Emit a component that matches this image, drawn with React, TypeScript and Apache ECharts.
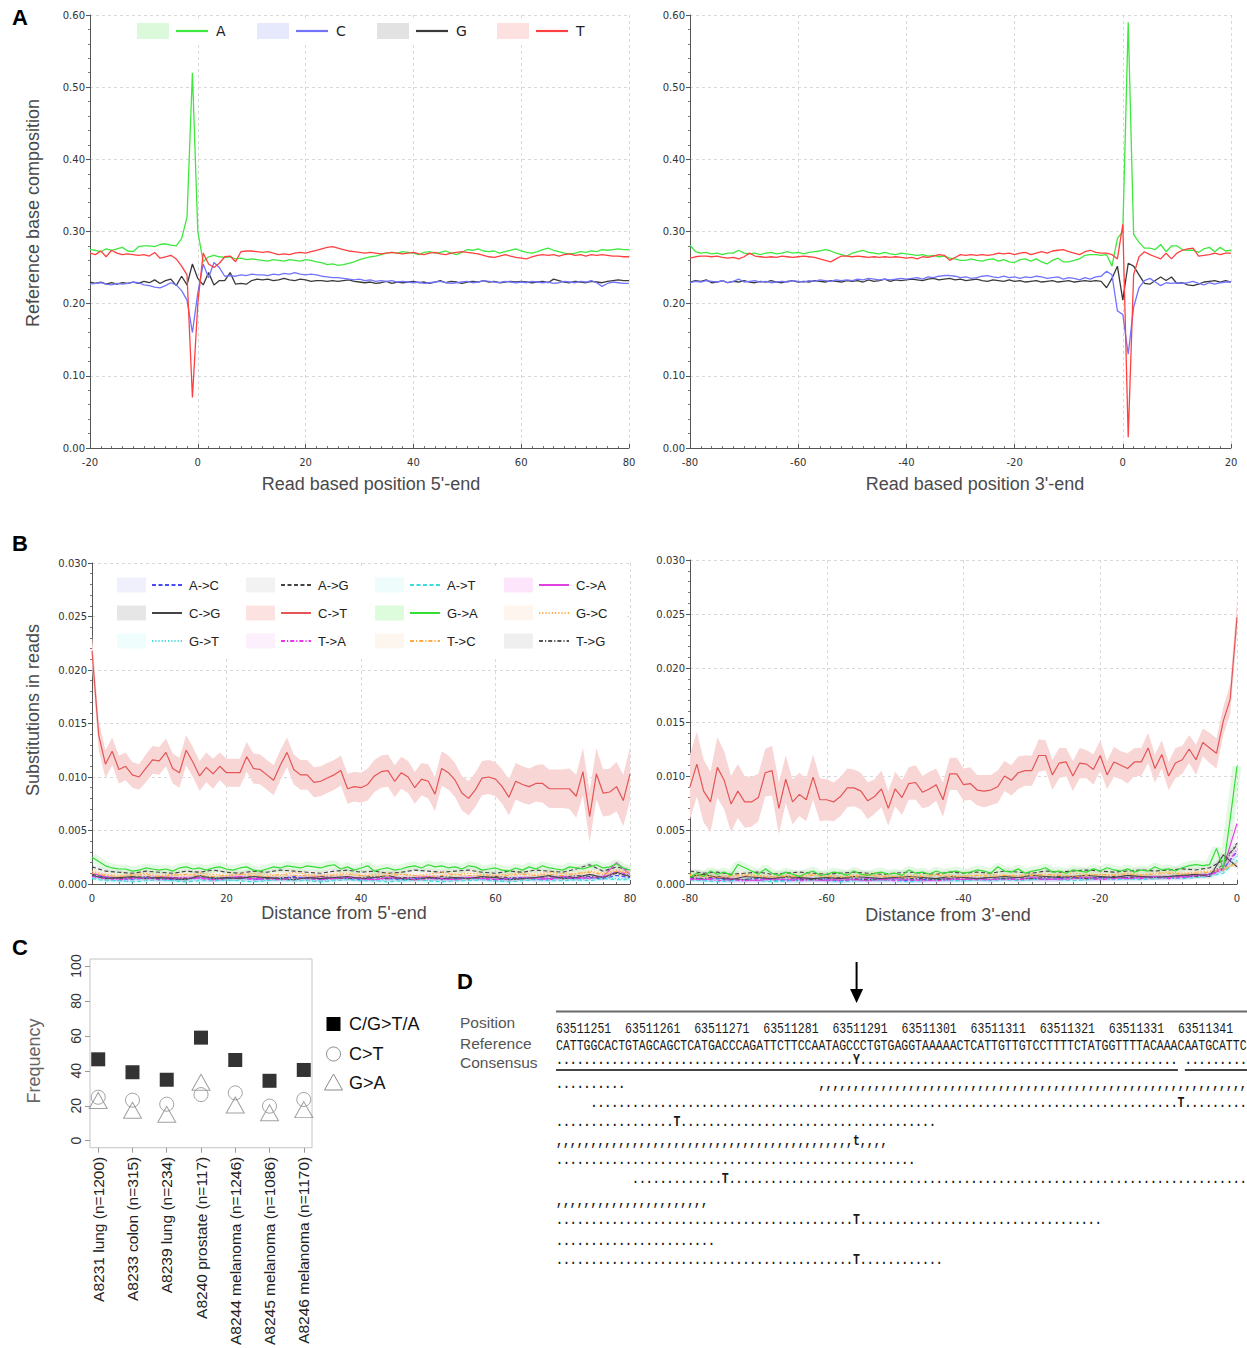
import React, { useEffect, useRef } from "react";
import * as echarts from "echarts";

// ---------------- Panel A: reference base composition ----------------
const A5_START = -20; // positions -20..80
const A3_START = -80; // positions -80..20
const nucNames = ["A", "C", "G", "T"];
const nucColors = ["#3ee83e", "#7373ff", "#3a3a3a", "#ff4040"];
const nucBoxColors = ["#dcf9dc", "#e6e8fb", "#e2e2e2", "#fde1e1"];

const a5A = [
  0.275, 0.274, 0.272, 0.276, 0.274, 0.276, 0.278, 0.273, 0.272, 0.279,
  0.280, 0.280, 0.279, 0.282, 0.283, 0.281, 0.280, 0.290, 0.320, 0.520,
  0.300, 0.258, 0.265, 0.267, 0.265, 0.264, 0.265, 0.262, 0.263, 0.261,
  0.262, 0.261, 0.260, 0.259, 0.261, 0.260, 0.259, 0.261, 0.260, 0.259,
  0.261, 0.260, 0.258, 0.257, 0.254, 0.255, 0.253, 0.254, 0.256, 0.258,
  0.261, 0.263, 0.265, 0.266, 0.268, 0.270, 0.271, 0.270, 0.272, 0.271,
  0.270, 0.268, 0.271, 0.272, 0.270, 0.271, 0.273, 0.270, 0.268, 0.271,
  0.275, 0.274, 0.276, 0.273, 0.272, 0.273, 0.270, 0.272, 0.274, 0.276,
  0.273, 0.271, 0.270, 0.272, 0.275, 0.277, 0.274, 0.272, 0.270, 0.269,
  0.270, 0.272, 0.271, 0.273, 0.272, 0.275, 0.274, 0.275, 0.276, 0.275,
  0.275,
];
const a5C = [
  0.227, 0.228, 0.229, 0.227, 0.226, 0.228, 0.227, 0.228, 0.230, 0.229,
  0.226, 0.225, 0.223, 0.222, 0.225, 0.229, 0.226, 0.218, 0.205, 0.160,
  0.215, 0.255, 0.236, 0.257, 0.250, 0.238, 0.239, 0.238, 0.240, 0.239,
  0.241, 0.240, 0.240, 0.239, 0.241, 0.240, 0.242, 0.241, 0.243, 0.241,
  0.240, 0.241, 0.240, 0.238, 0.237, 0.236, 0.236, 0.235, 0.234, 0.233,
  0.234, 0.232, 0.233, 0.231, 0.232, 0.231, 0.232, 0.230, 0.231, 0.230,
  0.229, 0.230, 0.228, 0.229, 0.230, 0.231, 0.229, 0.228, 0.229, 0.230,
  0.231, 0.229, 0.230, 0.232, 0.231, 0.230, 0.229, 0.231, 0.230, 0.229,
  0.230, 0.229, 0.231, 0.230, 0.229, 0.230, 0.228, 0.229, 0.231, 0.230,
  0.229, 0.231, 0.230, 0.232, 0.229, 0.224, 0.228, 0.230, 0.229, 0.228,
  0.228,
];
const a5G = [
  0.230, 0.228, 0.230, 0.227, 0.229, 0.227, 0.229, 0.228, 0.230, 0.228,
  0.231, 0.229, 0.233, 0.228, 0.232, 0.234, 0.225, 0.238, 0.226, 0.255,
  0.235, 0.226, 0.243, 0.226, 0.232, 0.232, 0.243, 0.227, 0.228, 0.227,
  0.232, 0.234, 0.233, 0.234, 0.232, 0.233, 0.235, 0.233, 0.232, 0.234,
  0.233, 0.231, 0.232, 0.232, 0.231, 0.232, 0.231, 0.232, 0.233, 0.231,
  0.230, 0.229, 0.230, 0.228, 0.229, 0.231, 0.228, 0.230, 0.229, 0.230,
  0.231, 0.229, 0.230, 0.228, 0.230, 0.232, 0.229, 0.231, 0.230, 0.228,
  0.230, 0.231, 0.230, 0.232, 0.230, 0.231, 0.229, 0.230, 0.231, 0.230,
  0.231, 0.230, 0.229, 0.230, 0.231, 0.229, 0.234, 0.232, 0.230, 0.229,
  0.231, 0.230, 0.229, 0.231, 0.230, 0.229, 0.231, 0.232, 0.233, 0.232,
  0.232,
];
const a5T = [
  0.270, 0.268, 0.273, 0.265, 0.274, 0.270, 0.268, 0.269, 0.268, 0.267,
  0.268, 0.266, 0.271, 0.263, 0.265, 0.267, 0.262, 0.252, 0.240, 0.070,
  0.200, 0.270, 0.255, 0.250, 0.256, 0.265, 0.266, 0.258, 0.272, 0.273,
  0.273, 0.272, 0.271, 0.272, 0.270, 0.268, 0.269, 0.268, 0.270, 0.271,
  0.270, 0.272, 0.274, 0.276, 0.278, 0.279, 0.277, 0.275, 0.273, 0.272,
  0.271, 0.270, 0.271, 0.270, 0.269, 0.270, 0.271, 0.270, 0.269, 0.270,
  0.271, 0.269, 0.268, 0.270, 0.271, 0.269, 0.268, 0.270, 0.271, 0.272,
  0.271, 0.270, 0.269, 0.267, 0.265, 0.264, 0.266, 0.268, 0.266, 0.264,
  0.263, 0.262, 0.265, 0.267, 0.268, 0.267, 0.268, 0.266, 0.268, 0.269,
  0.267, 0.268, 0.266, 0.268, 0.267, 0.268, 0.267, 0.266, 0.266, 0.265,
  0.265,
];

const a3A = [
  0.281, 0.272, 0.270, 0.271, 0.269, 0.270, 0.268, 0.270, 0.270, 0.274,
  0.270, 0.269, 0.270, 0.268, 0.270, 0.271, 0.269, 0.270, 0.272, 0.270,
  0.271, 0.269, 0.271, 0.272, 0.273, 0.275, 0.273, 0.270, 0.268, 0.266,
  0.270, 0.272, 0.274, 0.271, 0.270, 0.269, 0.271, 0.269, 0.268, 0.270,
  0.269, 0.268, 0.267, 0.268, 0.266, 0.267, 0.265, 0.266, 0.263, 0.262,
  0.260, 0.260, 0.262, 0.260, 0.259, 0.261, 0.262, 0.259, 0.261, 0.258,
  0.257, 0.261, 0.262, 0.259, 0.262, 0.258, 0.255, 0.260, 0.263, 0.258,
  0.258, 0.260, 0.262, 0.267, 0.268, 0.268, 0.267, 0.268, 0.252, 0.290,
  0.300, 0.590, 0.296, 0.285, 0.277, 0.277, 0.275, 0.282, 0.272, 0.280,
  0.280, 0.275, 0.274, 0.274, 0.271, 0.276, 0.278, 0.272, 0.278, 0.273,
  0.274,
];
const a3C = [
  0.229, 0.231, 0.230, 0.232, 0.231, 0.230, 0.232, 0.229, 0.231, 0.234,
  0.230, 0.231, 0.232, 0.230, 0.231, 0.229, 0.230, 0.231, 0.230, 0.232,
  0.231, 0.230, 0.232, 0.231, 0.233, 0.232, 0.231, 0.233, 0.232, 0.233,
  0.232, 0.234, 0.233, 0.235, 0.234, 0.233, 0.234, 0.233, 0.234, 0.235,
  0.234, 0.235, 0.236, 0.234, 0.237, 0.236, 0.238, 0.239, 0.239, 0.238,
  0.236, 0.237, 0.235, 0.236, 0.238, 0.239, 0.237, 0.236, 0.238, 0.236,
  0.237, 0.235, 0.237, 0.236, 0.238, 0.237, 0.235, 0.236, 0.237, 0.234,
  0.236, 0.235, 0.233, 0.236, 0.234, 0.237, 0.238, 0.245, 0.240, 0.190,
  0.185, 0.130, 0.195, 0.222, 0.232, 0.235, 0.230, 0.225, 0.229, 0.228,
  0.229, 0.228, 0.229, 0.231, 0.228, 0.226, 0.229, 0.227, 0.229, 0.230,
  0.230,
];
const a3G = [
  0.230, 0.232, 0.231, 0.233, 0.229, 0.230, 0.232, 0.229, 0.231, 0.230,
  0.232, 0.230, 0.229, 0.231, 0.230, 0.232, 0.230, 0.229, 0.231, 0.232,
  0.230, 0.231, 0.230, 0.232, 0.231, 0.230, 0.232, 0.231, 0.230, 0.232,
  0.231, 0.232, 0.230, 0.233, 0.231, 0.232, 0.234, 0.231, 0.233, 0.232,
  0.233, 0.234, 0.233, 0.232, 0.234, 0.235, 0.233, 0.234, 0.235, 0.233,
  0.234, 0.232, 0.233, 0.234, 0.232, 0.231, 0.233, 0.232, 0.231, 0.233,
  0.231, 0.232, 0.230, 0.231, 0.232, 0.230, 0.231, 0.232, 0.230, 0.231,
  0.232, 0.230, 0.231, 0.232, 0.231, 0.232, 0.231, 0.222, 0.235, 0.252,
  0.205, 0.256, 0.252, 0.240, 0.228, 0.227, 0.232, 0.237, 0.232, 0.237,
  0.228, 0.229, 0.226, 0.225, 0.227, 0.230, 0.231, 0.232, 0.230, 0.232,
  0.230,
];
const a3T = [
  0.263, 0.265, 0.266, 0.266, 0.265, 0.266, 0.264, 0.263, 0.264, 0.262,
  0.265, 0.270, 0.266, 0.265, 0.264, 0.265, 0.264, 0.266, 0.265, 0.264,
  0.265, 0.266, 0.265, 0.264, 0.262, 0.260, 0.258, 0.262, 0.266, 0.266,
  0.265, 0.266, 0.265, 0.264, 0.265, 0.264, 0.265, 0.264, 0.265, 0.264,
  0.263, 0.264, 0.262, 0.265, 0.264, 0.266, 0.268, 0.267, 0.260, 0.264,
  0.268, 0.267, 0.268, 0.267, 0.268, 0.267, 0.268, 0.270, 0.269, 0.270,
  0.268, 0.270, 0.271, 0.268, 0.270, 0.272, 0.270, 0.273, 0.274, 0.275,
  0.272, 0.270, 0.268, 0.272, 0.274, 0.271, 0.270, 0.270, 0.268, 0.262,
  0.310, 0.015, 0.240, 0.265, 0.272, 0.268, 0.265, 0.262, 0.270, 0.262,
  0.270, 0.274, 0.276, 0.277, 0.266, 0.267, 0.268, 0.270, 0.268, 0.270,
  0.270,
];

// ---------------- Panel B: substitutions in reads ----------------
const B5_START = 0; // 0..80
const B3_START = -80; // -80..0
const subNames = ["A->C", "A->G", "A->T", "C->A", "C->G", "C->T", "G->A", "G->C", "G->T", "T->A", "T->C", "T->G"];
const subColors = ["#4a4aff", "#444444", "#3fdcdc", "#e040e0", "#444444", "#e45555", "#33dd33", "#ffaa44", "#3fdcdc", "#ee33ee", "#ffaa44", "#555555"];
const subBoxColors = ["#eff0fc", "#f2f2f2", "#effcfc", "#fde6fc", "#e6e6e6", "#fde2e2", "#dcfcdc", "#fdf5ee", "#effdfd", "#fdf0fd", "#fdf6ee", "#efefef"];
const subDash = ["dash", "dash", "dash", "solid", "solid", "solid", "solid", "dot", "dot", "dashdot", "dashdot", "dashdot"];

const ct5 = [
  0.0218, 0.0139, 0.0112, 0.0124, 0.0107, 0.0110, 0.0102, 0.0100, 0.0108, 0.0116,
  0.0115, 0.0123, 0.0108, 0.0104, 0.0125, 0.0114, 0.0101, 0.0109, 0.0103, 0.0110,
  0.0104, 0.0104, 0.0104, 0.0119, 0.0108, 0.0107, 0.0102, 0.0097, 0.0111, 0.0123,
  0.0107, 0.0102, 0.0102, 0.0095, 0.0096, 0.0099, 0.0102, 0.0106, 0.0089, 0.0091,
  0.0090, 0.0093, 0.0101, 0.0105, 0.0106, 0.0096, 0.0104, 0.0100, 0.0090, 0.0098,
  0.0096, 0.0084, 0.0108, 0.0104, 0.0097, 0.0085, 0.0080, 0.0088, 0.0099, 0.0100,
  0.0098, 0.0091, 0.0081, 0.0096, 0.0093, 0.0091, 0.0094, 0.0094, 0.0089, 0.0089,
  0.0089, 0.0089, 0.0082, 0.0105, 0.0063, 0.0103, 0.0085, 0.0086, 0.0091, 0.0078,
  0.0103,
];
const ct5Err = [
  0.0015, 0.0014, 0.0013, 0.0013, 0.0013, 0.0013, 0.0012, 0.0012, 0.0013, 0.0013,
  0.0013, 0.0013, 0.0014, 0.0014, 0.0014, 0.0014, 0.0014, 0.0014, 0.0014, 0.0013,
  0.0013, 0.0013, 0.0013, 0.0014, 0.0014, 0.0014, 0.0014, 0.0014, 0.0014, 0.0014,
  0.0014, 0.0014, 0.0014, 0.0014, 0.0014, 0.0014, 0.0014, 0.0014, 0.0014, 0.0014,
  0.0014, 0.0015, 0.0015, 0.0015, 0.0015, 0.0015, 0.0015, 0.0015, 0.0015, 0.0015,
  0.0016, 0.0016, 0.0016, 0.0016, 0.0016, 0.0016, 0.0016, 0.0016, 0.0016, 0.0016,
  0.0016, 0.0016, 0.0017, 0.0017, 0.0017, 0.0017, 0.0017, 0.0018, 0.0018, 0.0018,
  0.0018, 0.0019, 0.0020, 0.0022, 0.0024, 0.0024, 0.0022, 0.0022, 0.0023, 0.0024,
  0.0025,
];
const ga5 = [
  0.0025, 0.0021, 0.0017, 0.0015, 0.0014, 0.0014, 0.0012, 0.0013, 0.0015, 0.0014,
  0.0013, 0.0014, 0.0012, 0.0015, 0.0016, 0.0014, 0.0015, 0.0013, 0.0015, 0.0016,
  0.0014, 0.0013, 0.0015, 0.0016, 0.0013, 0.0012, 0.0014, 0.0016, 0.0015, 0.0017,
  0.0016, 0.0015, 0.0017, 0.0016, 0.0015, 0.0017, 0.0018, 0.0014, 0.0016, 0.0013,
  0.0015, 0.0017, 0.0012, 0.0014, 0.0015, 0.0013, 0.0014, 0.0016, 0.0017, 0.0015,
  0.0018, 0.0016, 0.0017, 0.0015, 0.0016, 0.0014, 0.0017, 0.0016, 0.0013, 0.0014,
  0.0015, 0.0013, 0.0012, 0.0015, 0.0013, 0.0016, 0.0014, 0.0017, 0.0015, 0.0014,
  0.0013, 0.0016, 0.0015, 0.0014, 0.0016, 0.0018, 0.0015, 0.0016, 0.0019, 0.0015,
  0.0013,
];
// minor substitutions, every 2nd position (0,2,...,80)
const ac5 = [0.0009, 0.0006, 0.0005, 0.0004, 0.0006, 0.0005, 0.0004, 0.0005, 0.0006, 0.0004, 0.0005, 0.0006, 0.0004, 0.0005, 0.0005, 0.0007, 0.0005, 0.0004, 0.0006, 0.0005, 0.0004, 0.0006, 0.0005, 0.0004, 0.0005, 0.0006, 0.0004, 0.0005, 0.0006, 0.0005, 0.0004, 0.0005, 0.0006, 0.0004, 0.0005, 0.0006, 0.0005, 0.0006, 0.0005, 0.0008, 0.0006];
const ag5 = [0.0016, 0.0012, 0.0011, 0.0010, 0.0012, 0.0011, 0.0010, 0.0012, 0.0011, 0.0013, 0.0011, 0.0010, 0.0012, 0.0011, 0.0013, 0.0012, 0.0011, 0.0010, 0.0012, 0.0013, 0.0011, 0.0012, 0.0010, 0.0011, 0.0013, 0.0012, 0.0011, 0.0012, 0.0013, 0.0011, 0.0010, 0.0012, 0.0011, 0.0013, 0.0012, 0.0011, 0.0014, 0.0018, 0.0012, 0.0016, 0.0013];
const at5 = [0.0005, 0.0003, 0.0003, 0.0002, 0.0003, 0.0004, 0.0003, 0.0002, 0.0003, 0.0003, 0.0004, 0.0003, 0.0002, 0.0003, 0.0004, 0.0003, 0.0003, 0.0002, 0.0003, 0.0004, 0.0003, 0.0003, 0.0002, 0.0003, 0.0004, 0.0003, 0.0002, 0.0003, 0.0003, 0.0004, 0.0003, 0.0002, 0.0003, 0.0004, 0.0003, 0.0003, 0.0004, 0.0003, 0.0005, 0.0004, 0.0004];
const ca5 = [0.0010, 0.0007, 0.0005, 0.0006, 0.0005, 0.0007, 0.0006, 0.0005, 0.0006, 0.0004, 0.0006, 0.0007, 0.0005, 0.0006, 0.0005, 0.0004, 0.0006, 0.0007, 0.0005, 0.0006, 0.0005, 0.0004, 0.0006, 0.0005, 0.0006, 0.0007, 0.0005, 0.0004, 0.0006, 0.0005, 0.0006, 0.0004, 0.0005, 0.0006, 0.0005, 0.0007, 0.0006, 0.0005, 0.0007, 0.0020, 0.0009];
const cg5 = [0.0008, 0.0005, 0.0006, 0.0007, 0.0005, 0.0006, 0.0005, 0.0004, 0.0008, 0.0005, 0.0006, 0.0005, 0.0007, 0.0006, 0.0005, 0.0004, 0.0006, 0.0005, 0.0006, 0.0007, 0.0005, 0.0006, 0.0008, 0.0005, 0.0004, 0.0006, 0.0005, 0.0006, 0.0005, 0.0007, 0.0006, 0.0004, 0.0005, 0.0006, 0.0008, 0.0005, 0.0006, 0.0009, 0.0006, 0.0011, 0.0007];
const gc5 = [0.0012, 0.0009, 0.0008, 0.0009, 0.0010, 0.0008, 0.0009, 0.0008, 0.0010, 0.0009, 0.0008, 0.0009, 0.0010, 0.0009, 0.0008, 0.0011, 0.0009, 0.0008, 0.0009, 0.0010, 0.0008, 0.0009, 0.0010, 0.0009, 0.0008, 0.0009, 0.0011, 0.0009, 0.0010, 0.0009, 0.0008, 0.0009, 0.0010, 0.0009, 0.0011, 0.0010, 0.0009, 0.0012, 0.0010, 0.0013, 0.0011];
const gt5 = [0.0006, 0.0004, 0.0003, 0.0004, 0.0005, 0.0004, 0.0003, 0.0004, 0.0004, 0.0005, 0.0003, 0.0004, 0.0004, 0.0003, 0.0005, 0.0004, 0.0004, 0.0003, 0.0004, 0.0005, 0.0004, 0.0003, 0.0004, 0.0004, 0.0005, 0.0003, 0.0004, 0.0004, 0.0005, 0.0004, 0.0003, 0.0004, 0.0005, 0.0004, 0.0004, 0.0005, 0.0004, 0.0005, 0.0006, 0.0005, 0.0005];
const ta5 = [0.0007, 0.0005, 0.0004, 0.0005, 0.0006, 0.0004, 0.0005, 0.0006, 0.0005, 0.0004, 0.0005, 0.0006, 0.0004, 0.0005, 0.0004, 0.0006, 0.0005, 0.0004, 0.0005, 0.0006, 0.0005, 0.0004, 0.0005, 0.0006, 0.0004, 0.0005, 0.0005, 0.0004, 0.0006, 0.0005, 0.0004, 0.0005, 0.0006, 0.0005, 0.0004, 0.0006, 0.0005, 0.0007, 0.0006, 0.0012, 0.0008];
const tc5 = [0.0010, 0.0008, 0.0007, 0.0008, 0.0009, 0.0007, 0.0008, 0.0009, 0.0008, 0.0007, 0.0008, 0.0009, 0.0008, 0.0007, 0.0009, 0.0008, 0.0008, 0.0007, 0.0008, 0.0009, 0.0008, 0.0007, 0.0008, 0.0009, 0.0008, 0.0007, 0.0008, 0.0009, 0.0008, 0.0008, 0.0007, 0.0008, 0.0009, 0.0008, 0.0009, 0.0008, 0.0010, 0.0011, 0.0009, 0.0012, 0.0010];
const tg5 = [0.0009, 0.0006, 0.0005, 0.0006, 0.0007, 0.0005, 0.0006, 0.0005, 0.0007, 0.0006, 0.0005, 0.0006, 0.0007, 0.0005, 0.0006, 0.0006, 0.0005, 0.0007, 0.0006, 0.0005, 0.0006, 0.0007, 0.0005, 0.0006, 0.0006, 0.0005, 0.0007, 0.0006, 0.0005, 0.0006, 0.0007, 0.0006, 0.0005, 0.0006, 0.0007, 0.0006, 0.0008, 0.0007, 0.0006, 0.0010, 0.0007];

const ct3 = [
  0.0090, 0.0111, 0.0086, 0.0076, 0.0108, 0.0096, 0.0074, 0.0086, 0.0076, 0.0076,
  0.0080, 0.0103, 0.0105, 0.0070, 0.0097, 0.0076, 0.0083, 0.0078, 0.0099, 0.0078,
  0.0078, 0.0076, 0.0081, 0.0089, 0.0089, 0.0086, 0.0077, 0.0081, 0.0088, 0.0070,
  0.0088, 0.0080, 0.0093, 0.0094, 0.0085, 0.0088, 0.0092, 0.0078, 0.0102, 0.0102,
  0.0092, 0.0093, 0.0087, 0.0086, 0.0087, 0.0090, 0.0100, 0.0096, 0.0103, 0.0105,
  0.0105, 0.0119, 0.0119, 0.0101, 0.0112, 0.0113, 0.0100, 0.0112, 0.0111, 0.0106,
  0.0119, 0.0101, 0.0113, 0.0110, 0.0107, 0.0113, 0.0113, 0.0126, 0.0107, 0.0120,
  0.0100, 0.0112, 0.0115, 0.0125, 0.0115, 0.0131, 0.0126, 0.0121, 0.0151, 0.0171,
  0.0247,
];
const ct3Err = [
  0.0030, 0.0030, 0.0029, 0.0028, 0.0028, 0.0027, 0.0026, 0.0025, 0.0024, 0.0023,
  0.0022, 0.0022, 0.0023, 0.0024, 0.0022, 0.0021, 0.0020, 0.0020, 0.0021, 0.0020,
  0.0019, 0.0018, 0.0018, 0.0018, 0.0017, 0.0017, 0.0017, 0.0016, 0.0017, 0.0016,
  0.0016, 0.0016, 0.0015, 0.0016, 0.0015, 0.0016, 0.0015, 0.0016, 0.0015, 0.0015,
  0.0015, 0.0015, 0.0014, 0.0015, 0.0014, 0.0015, 0.0014, 0.0014, 0.0015, 0.0014,
  0.0014, 0.0015, 0.0014, 0.0014, 0.0014, 0.0013, 0.0014, 0.0014, 0.0013, 0.0014,
  0.0014, 0.0013, 0.0014, 0.0013, 0.0014, 0.0013, 0.0013, 0.0014, 0.0013, 0.0013,
  0.0013, 0.0014, 0.0013, 0.0013, 0.0014, 0.0013, 0.0014, 0.0014, 0.0013, 0.0014,
  0.0015,
];
const ga3 = [
  0.0006, 0.0010, 0.0007, 0.0012, 0.0009, 0.0011, 0.0008, 0.0018, 0.0015, 0.0012,
  0.0009, 0.0014, 0.0010, 0.0008, 0.0011, 0.0009, 0.0007, 0.0010, 0.0012, 0.0008,
  0.0009, 0.0011, 0.0010, 0.0008, 0.0012, 0.0009, 0.0008, 0.0010, 0.0011, 0.0009,
  0.0010, 0.0008, 0.0013, 0.0010, 0.0011, 0.0009, 0.0012, 0.0010, 0.0011, 0.0012,
  0.0010, 0.0011, 0.0013, 0.0012, 0.0010, 0.0016, 0.0012, 0.0011, 0.0014, 0.0010,
  0.0012, 0.0013, 0.0015, 0.0011, 0.0012, 0.0010, 0.0013, 0.0012, 0.0011, 0.0014,
  0.0012, 0.0015, 0.0013, 0.0012, 0.0014, 0.0011, 0.0013, 0.0012, 0.0016, 0.0013,
  0.0014, 0.0012, 0.0015, 0.0017, 0.0018, 0.0017, 0.0018, 0.0033, 0.0014, 0.0060,
  0.0109,
];
// minor substitutions, every 2nd position (-80,-78,...,0)
const ac3 = [0.0006, 0.0004, 0.0005, 0.0003, 0.0004, 0.0005, 0.0004, 0.0003, 0.0004, 0.0005, 0.0004, 0.0003, 0.0004, 0.0005, 0.0004, 0.0004, 0.0003, 0.0004, 0.0005, 0.0004, 0.0004, 0.0005, 0.0004, 0.0005, 0.0006, 0.0005, 0.0004, 0.0005, 0.0006, 0.0005, 0.0006, 0.0005, 0.0006, 0.0007, 0.0006, 0.0007, 0.0006, 0.0008, 0.0009, 0.0014, 0.0030];
const ag3 = [0.0012, 0.0010, 0.0011, 0.0009, 0.0010, 0.0011, 0.0009, 0.0010, 0.0011, 0.0010, 0.0009, 0.0010, 0.0011, 0.0010, 0.0009, 0.0010, 0.0011, 0.0010, 0.0009, 0.0011, 0.0010, 0.0011, 0.0010, 0.0012, 0.0011, 0.0010, 0.0012, 0.0011, 0.0012, 0.0013, 0.0012, 0.0011, 0.0012, 0.0013, 0.0012, 0.0013, 0.0014, 0.0013, 0.0015, 0.0022, 0.0036];
const at3 = [0.0004, 0.0003, 0.0002, 0.0003, 0.0004, 0.0003, 0.0002, 0.0003, 0.0003, 0.0004, 0.0003, 0.0002, 0.0003, 0.0003, 0.0004, 0.0003, 0.0002, 0.0003, 0.0004, 0.0003, 0.0003, 0.0004, 0.0003, 0.0004, 0.0003, 0.0004, 0.0005, 0.0004, 0.0003, 0.0004, 0.0005, 0.0004, 0.0005, 0.0004, 0.0005, 0.0006, 0.0005, 0.0006, 0.0007, 0.0010, 0.0022];
const ca3 = [0.0005, 0.0004, 0.0006, 0.0005, 0.0004, 0.0003, 0.0005, 0.0004, 0.0005, 0.0004, 0.0003, 0.0005, 0.0004, 0.0003, 0.0004, 0.0005, 0.0004, 0.0003, 0.0004, 0.0005, 0.0004, 0.0005, 0.0004, 0.0005, 0.0004, 0.0006, 0.0005, 0.0004, 0.0005, 0.0006, 0.0005, 0.0006, 0.0005, 0.0006, 0.0007, 0.0006, 0.0007, 0.0008, 0.0009, 0.0015, 0.0056];
const cg3 = [0.0007, 0.0009, 0.0006, 0.0004, 0.0007, 0.0006, 0.0005, 0.0007, 0.0006, 0.0005, 0.0006, 0.0005, 0.0007, 0.0006, 0.0005, 0.0006, 0.0007, 0.0006, 0.0005, 0.0007, 0.0006, 0.0005, 0.0006, 0.0007, 0.0006, 0.0008, 0.0007, 0.0006, 0.0007, 0.0008, 0.0007, 0.0006, 0.0008, 0.0007, 0.0006, 0.0007, 0.0008, 0.0009, 0.0007, 0.0027, 0.0016];
const gc3 = [0.0009, 0.0008, 0.0007, 0.0008, 0.0009, 0.0008, 0.0007, 0.0008, 0.0008, 0.0009, 0.0008, 0.0007, 0.0008, 0.0009, 0.0008, 0.0007, 0.0008, 0.0008, 0.0009, 0.0008, 0.0007, 0.0008, 0.0009, 0.0008, 0.0008, 0.0009, 0.0008, 0.0009, 0.0010, 0.0009, 0.0008, 0.0009, 0.0010, 0.0009, 0.0010, 0.0011, 0.0010, 0.0011, 0.0012, 0.0014, 0.0019];
const gt3 = [0.0004, 0.0003, 0.0004, 0.0003, 0.0004, 0.0004, 0.0003, 0.0004, 0.0003, 0.0004, 0.0004, 0.0003, 0.0004, 0.0004, 0.0003, 0.0004, 0.0004, 0.0003, 0.0004, 0.0004, 0.0003, 0.0004, 0.0004, 0.0005, 0.0004, 0.0004, 0.0005, 0.0004, 0.0005, 0.0004, 0.0005, 0.0005, 0.0004, 0.0005, 0.0006, 0.0005, 0.0006, 0.0007, 0.0008, 0.0012, 0.0026];
const ta3 = [0.0004, 0.0005, 0.0003, 0.0004, 0.0003, 0.0004, 0.0005, 0.0004, 0.0003, 0.0004, 0.0004, 0.0003, 0.0004, 0.0005, 0.0004, 0.0003, 0.0004, 0.0004, 0.0003, 0.0004, 0.0005, 0.0004, 0.0004, 0.0005, 0.0004, 0.0005, 0.0004, 0.0005, 0.0006, 0.0005, 0.0004, 0.0005, 0.0006, 0.0005, 0.0006, 0.0005, 0.0006, 0.0007, 0.0008, 0.0013, 0.0032];
const tc3 = [0.0008, 0.0007, 0.0006, 0.0007, 0.0008, 0.0007, 0.0006, 0.0007, 0.0007, 0.0008, 0.0007, 0.0006, 0.0007, 0.0008, 0.0007, 0.0007, 0.0006, 0.0007, 0.0008, 0.0007, 0.0007, 0.0008, 0.0007, 0.0008, 0.0007, 0.0008, 0.0009, 0.0008, 0.0007, 0.0008, 0.0009, 0.0008, 0.0009, 0.0008, 0.0009, 0.0010, 0.0009, 0.0010, 0.0011, 0.0013, 0.0020];
const tg3 = [0.0006, 0.0005, 0.0007, 0.0005, 0.0004, 0.0006, 0.0005, 0.0006, 0.0005, 0.0004, 0.0005, 0.0006, 0.0005, 0.0004, 0.0005, 0.0006, 0.0005, 0.0005, 0.0004, 0.0005, 0.0006, 0.0005, 0.0006, 0.0005, 0.0006, 0.0005, 0.0006, 0.0007, 0.0006, 0.0005, 0.0006, 0.0007, 0.0006, 0.0007, 0.0006, 0.0007, 0.0008, 0.0007, 0.0009, 0.0018, 0.0038];

// ---------------- Panel C: frequency per sample ----------------
const samples = [
  "A8231 lung (n=1200)",
  "A8233 colon (n=315)",
  "A8239 lung (n=234)",
  "A8240 prostate (n=117)",
  "A8244 melanoma (n=1246)",
  "A8245 melanoma (n=1086)",
  "A8246 melanoma (n=1170)",
];
const freqCGTA = [46.6, 39.2, 34.9, 59.0, 46.2, 34.3, 40.5];
const freqCT = [24.9, 23.2, 20.9, 26.4, 27.4, 19.8, 23.6];
const freqGA = [23.0, 17.4, 15.1, 33.5, 20.4, 16.0, 17.8];
const cTicks = [0, 20, 40, 60, 80, 100];
const cLegend = ["C/G>T/A", "C>T", "G>A"];

// ---------------- Panel D: read alignment ----------------
const refStartPos = 63511251;
const refSeq = "CATTGGCACTGTAGCAGCTCATGACCCAGATTCTTCCAATAGCCCTGTGAGGTAAAAACTCATTGTTGTCCTTTTCTATGGTTTTACAAACAATGCATTC";
const variantCol = 43;
const variantCode = "Y";
const consensusGapCol = 90;
const reads = [
  { row: 0, from: 0, to: 9, fwd: true, mmCol: -1, mmBase: "" },
  { row: 0, from: 38, to: 99, fwd: false, mmCol: -1, mmBase: "" },
  { row: 1, from: 5, to: 99, fwd: true, mmCol: 90, mmBase: "T" },
  { row: 2, from: 0, to: 54, fwd: true, mmCol: 17, mmBase: "T" },
  { row: 3, from: 0, to: 47, fwd: false, mmCol: 43, mmBase: "t" },
  { row: 4, from: 0, to: 51, fwd: true, mmCol: -1, mmBase: "" },
  { row: 5, from: 11, to: 99, fwd: true, mmCol: 24, mmBase: "T" },
  { row: 6, from: 0, to: 21, fwd: false, mmCol: -1, mmBase: "" },
  { row: 7, from: 0, to: 78, fwd: true, mmCol: 43, mmBase: "T" },
  { row: 8, from: 0, to: 22, fwd: true, mmCol: -1, mmBase: "" },
  { row: 9, from: 0, to: 55, fwd: true, mmCol: 43, mmBase: "T" },
];

// ---------------- helpers ----------------
const pairs = (start: number, step: number, vals: number[]) => vals.map((v, i) => [start + i * step, v]);
const dashOf = (k: string): any =>
  k === "dash" ? [4, 2.5] : k === "dot" ? [1.2, 2] : k === "dashdot" ? [4, 2, 1.2, 2] : "solid";

const SANS = '"Liberation Sans", Arial, sans-serif';
const MONO = '"Liberation Mono", monospace';

function numAxis(gridIndex: number, min: number, max: number, interval: number, digits: number, isX: boolean, minorSplit: number) {
  return {
    type: "value",
    gridIndex,
    min,
    max,
    interval,
    axisLine: { show: true, onZero: false, lineStyle: { color: "#555", width: 1 } },
    axisTick: { show: true, inside: isX, length: 4, lineStyle: { color: "#555" } },
    minorTick: { show: true, splitNumber: minorSplit, length: 2, lineStyle: { color: "#777" } },
    splitLine: { show: true, lineStyle: { color: "#d9d9d9", type: [3, 3], width: 1 } },
    axisLabel: {
      show: true,
      showMinLabel: true,
      showMaxLabel: true,
      fontFamily: "DejaVu Sans",
      fontSize: 10,
      color: "#333",
      margin: isX ? 9 : 5,
      formatter: (v: number) => (digits === 0 ? String(Math.round(v)) : v.toFixed(digits)),
    },
  };
}

function lineS(name: string, idx: number, data: any[], color: string, dash: any, width: number, z = 3) {
  return {
    name,
    type: "line",
    xAxisIndex: idx,
    yAxisIndex: idx,
    data,
    symbol: "none",
    showSymbol: false,
    silent: true,
    z,
    lineStyle: { color, width, type: dash },
  };
}

// confidence band drawn as a polygon through the axes' own scale
function bandS(idx: number, center: number[], err: number[], start: number, color: string) {
  const upper = center.map((v, i) => [start + i, v + err[i]]);
  const lower = center.map((v, i) => [start + i, v - err[i]]);
  return {
    type: "custom",
    xAxisIndex: idx,
    yAxisIndex: idx,
    silent: true,
    z: 1,
    clip: true,
    data: [[start, 0]],
    renderItem: (_p: any, api: any) => {
      const pts = upper.map((p) => api.coord(p)).concat(lower.slice().reverse().map((p) => api.coord(p)));
      return { type: "polygon", shape: { points: pts }, style: { fill: color } };
    },
  };
}

function txt(x: number, y: number, text: string, font: string, fill = "#222", align = "left", rotation = 0, extra: any = {}) {
  return {
    type: "text",
    x,
    y,
    rotation,
    z: 20,
    silent: true,
    ...extra,
    style: { text, font, fill, align, verticalAlign: "middle", textAlign: align, textVerticalAlign: "middle" },
  };
}

function buildOption() {
  const series: any[] = [];

  // Panel A
  const a5 = [a5A, a5C, a5G, a5T];
  const a3 = [a3A, a3C, a3G, a3T];
  [2, 1, 0, 3].forEach((k) => {
    series.push(lineS(nucNames[k] + " 5'", 0, pairs(A5_START, 1, a5[k]), nucColors[k], "solid", 1.3));
  });
  [2, 1, 0, 3].forEach((k) => {
    series.push(lineS(nucNames[k] + " 3'", 1, pairs(A3_START, 1, a3[k]), nucColors[k], "solid", 1.3));
  });

  // Panel B
  const minor5 = [ac5, ag5, at5, ca5, cg5, null, null, gc5, gt5, ta5, tc5, tg5];
  const minor3 = [ac3, ag3, at3, ca3, cg3, null, null, gc3, gt3, ta3, tc3, tg3];
  series.push(bandS(2, ct5, ct5Err, B5_START, "#f9d6d6"));
  series.push(bandS(3, ct3, ct3Err, B3_START, "#f9d6d6"));
  series.push(lineS("G->A glow 5'", 2, pairs(B5_START, 1, ga5), "rgba(90,220,90,0.16)", "solid", 9, 2));
  series.push(lineS("G->A glow 3'", 3, pairs(B3_START, 1, ga3), "rgba(90,220,90,0.16)", "solid", 9, 2));
  minor5.forEach((arr, k) => {
    if (!arr) return;
    series.push(lineS(subNames[k] + " glow 5'", 2, pairs(B5_START, 2, arr), subColors[k], "solid", 5, 2));
    series[series.length - 1].lineStyle.opacity = 0.07;
  });
  minor3.forEach((arr, k) => {
    if (!arr) return;
    series.push(lineS(subNames[k] + " glow 3'", 3, pairs(B3_START, 2, arr), subColors[k], "solid", 5, 2));
    series[series.length - 1].lineStyle.opacity = 0.07;
  });
  minor5.forEach((arr, k) => {
    if (!arr) return;
    series.push(lineS(subNames[k] + " 5'", 2, pairs(B5_START, 2, arr), subColors[k], dashOf(subDash[k]), 1.1));
  });
  minor3.forEach((arr, k) => {
    if (!arr) return;
    series.push(lineS(subNames[k] + " 3'", 3, pairs(B3_START, 2, arr), subColors[k], dashOf(subDash[k]), 1.1));
  });
  series.push(lineS("G->A 5'", 2, pairs(B5_START, 1, ga5), subColors[6], "solid", 1.2, 4));
  series.push(lineS("G->A 3'", 3, pairs(B3_START, 1, ga3), subColors[6], "solid", 1.2, 4));
  series.push(lineS("C->T 5'", 2, pairs(B5_START, 1, ct5), subColors[5], "solid", 1.2, 5));
  series.push(lineS("C->T 3'", 3, pairs(B3_START, 1, ct3), subColors[5], "solid", 1.2, 5));

  // Panel C
  series.push({
    name: cLegend[2], type: "scatter", xAxisIndex: 4, yAxisIndex: 4, silent: true, z: 3,
    data: freqGA.map((v, i) => [i + 1, v]), symbol: "triangle", symbolSize: [18, 16],
    itemStyle: { color: "rgba(0,0,0,0)", borderColor: "#8a8a8a", borderWidth: 1 },
  });
  series.push({
    name: cLegend[1], type: "scatter", xAxisIndex: 4, yAxisIndex: 4, silent: true, z: 3,
    data: freqCT.map((v, i) => [i + 1, v]), symbol: "circle", symbolSize: 14,
    itemStyle: { color: "rgba(0,0,0,0)", borderColor: "#8a8a8a", borderWidth: 1 },
  });
  series.push({
    name: cLegend[0], type: "scatter", xAxisIndex: 4, yAxisIndex: 4, silent: true, z: 4,
    data: freqCGTA.map((v, i) => [i + 1, v]), symbol: "rect", symbolSize: 14,
    itemStyle: { color: "#000" },
  });

  // ---------- graphics ----------
  const g: any[] = [];
  // panel letters
  const letterFont = `bold 22px ${SANS}`;
  g.push(txt(12, 17, "A", letterFont, "#000"));
  g.push(txt(12, 543, "B", letterFont, "#000"));
  g.push(txt(12, 947, "C", letterFont, "#000"));
  g.push(txt(457, 981, "D", letterFont, "#000"));

  // axis names
  const nameFont = `18px ${SANS}`;
  g.push(txt(371, 484, "Read based position 5'-end", nameFont, "#4a4a4a", "center"));
  g.push(txt(975, 484, "Read based position 3'-end", nameFont, "#4a4a4a", "center"));
  g.push(txt(344, 913, "Distance from 5'-end", nameFont, "#4a4a4a", "center"));
  g.push(txt(948, 915, "Distance from 3'-end", nameFont, "#4a4a4a", "center"));
  g.push(txt(33, 213, "Reference base composition", nameFont, "#4a4a4a", "center", Math.PI / 2));
  g.push(txt(33, 710, "Substitutions in reads", nameFont, "#4a4a4a", "center", Math.PI / 2));
  g.push(txt(34, 1061, "Frequency", nameFont, "#666", "center", Math.PI / 2));

  // Panel A legend
  g.push({ type: "rect", z: 15, silent: true, shape: { x: 130, y: 20, width: 462, height: 22 }, style: { fill: "#fff" } });
  const aLegX = [137, 257, 377, 497];
  nucNames.forEach((n, k) => {
    const x0 = aLegX[k];
    g.push({ type: "rect", z: 16, silent: true, shape: { x: x0, y: 23, width: 32, height: 16 }, style: { fill: nucBoxColors[k] } });
    g.push({ type: "line", z: 16, silent: true, shape: { x1: x0 + 39, y1: 31, x2: x0 + 71, y2: 31 }, style: { stroke: nucColors[k], lineWidth: 2.2 } });
    g.push(txt(x0 + 79, 31, n, `14px "DejaVu Sans"`, "#222"));
  });

  // Panel B legend
  g.push({ type: "rect", z: 15, silent: true, shape: { x: 97, y: 568, width: 530, height: 88 }, style: { fill: "#fff" } });
  const bLegX = [117, 246, 375, 504];
  const bLegY = [585, 613, 641];
  subNames.forEach((n, k) => {
    const x0 = bLegX[k % 4];
    const y0 = bLegY[Math.floor(k / 4)];
    const d = dashOf(subDash[k]);
    g.push({ type: "rect", z: 16, silent: true, shape: { x: x0, y: y0 - 7.5, width: 29, height: 15 }, style: { fill: subBoxColors[k] } });
    g.push({
      type: "line", z: 16, silent: true,
      shape: { x1: x0 + 35, y1: y0, x2: x0 + 65, y2: y0 },
      style: { stroke: subColors[k], lineWidth: 2, lineDash: d === "solid" ? null : d },
    });
    g.push(txt(x0 + 72, y0, n, `13px ${SANS}`, "#222"));
  });

  // Panel C legend
  g.push({ type: "rect", z: 16, silent: true, shape: { x: 326.5, y: 1017, width: 14, height: 14 }, style: { fill: "#000" } });
  g.push(txt(349, 1024, cLegend[0], `18px ${SANS}`, "#111"));
  g.push({ type: "circle", z: 16, silent: true, shape: { cx: 333.5, cy: 1054, r: 7 }, style: { fill: "none", stroke: "#8a8a8a", lineWidth: 1 } });
  g.push(txt(349, 1054, cLegend[1], `18px ${SANS}`, "#111"));
  g.push({
    type: "polygon", z: 16, silent: true,
    shape: { points: [[333.5, 1074], [342.5, 1090], [324.5, 1090]] },
    style: { fill: "none", stroke: "#8a8a8a", lineWidth: 1 },
  });
  g.push(txt(349, 1083, cLegend[2], `18px ${SANS}`, "#111"));

  // Panel D
  const X0 = 556;
  const CW = 6.91;
  const monoScale = CW / 9;
  const colX = (c: number) => X0 + c * CW;
  const mono = (col: number, y: number, text: string, weight = "normal") => ({
    type: "text", x: colX(col), y, scaleX: monoScale, z: 20, silent: true,
    style: { text, font: `${weight} 15px ${MONO}`, fill: "#1a1a1a", align: "left", verticalAlign: "middle", textAlign: "left", textVerticalAlign: "middle" },
  });
  const labFont = `15.5px ${SANS}`;
  g.push(txt(460, 1022, "Position", labFont, "#555"));
  g.push(txt(460, 1043, "Reference", labFont, "#555"));
  g.push(txt(460, 1062, "Consensus", labFont, "#555"));
  g.push({ type: "line", z: 16, silent: true, shape: { x1: X0, y1: 1011.5, x2: 1247, y2: 1011.5 }, style: { stroke: "#6a6a6a", lineWidth: 2 } });
  for (let k = 0; k < refSeq.length / 10; k++) g.push(mono(k * 10, 1029, String(refStartPos + k * 10)));
  g.push(mono(0, 1046, refSeq));
  // consensus: matches as '.', variant code at variantCol, blank at gap column
  const consSegs: [number, number][] = [[0, consensusGapCol - 1], [consensusGapCol + 1, refSeq.length - 1]];
  consSegs.forEach(([a, b]) => {
    let s = "";
    for (let c = a; c <= b; c++) s += c === variantCol ? variantCode : ".";
    g.push(mono(a, 1060, s, "bold"));
    g.push({ type: "line", z: 16, silent: true, shape: { x1: colX(a), y1: 1070, x2: colX(b + 1), y2: 1070 }, style: { stroke: "#444", lineWidth: 2 } });
  });
  const rowY = [1084.5, 1103, 1122, 1141, 1160, 1179, 1201.5, 1220, 1241, 1260];
  reads.forEach((r) => {
    let s = "";
    for (let c = r.from; c <= r.to; c++) s += c === r.mmCol ? r.mmBase : r.fwd ? "." : ",";
    g.push(mono(r.from, rowY[r.row], s, "bold"));
  });
  // arrow marking the variant column
  const ax = colX(variantCol + 0.5);
  g.push({ type: "line", z: 16, silent: true, shape: { x1: ax, y1: 962, x2: ax, y2: 992 }, style: { stroke: "#000", lineWidth: 2 } });
  g.push({ type: "polygon", z: 16, silent: true, shape: { points: [[ax - 6.5, 989], [ax + 6.5, 989], [ax, 1003]] }, style: { fill: "#000" } });

  return {
    animation: false,
    backgroundColor: "#ffffff",
    textStyle: { fontFamily: "DejaVu Sans" },
    grid: [
      { left: 90, top: 15, width: 539, height: 433 },
      { left: 690, top: 15, width: 541, height: 433 },
      { left: 92, top: 563, width: 538, height: 321 },
      { left: 690, top: 560, width: 547, height: 324 },
      { left: 90, top: 959, width: 222, height: 191, show: true, borderColor: "#c4c4c4", borderWidth: 1, backgroundColor: "transparent" },
    ],
    xAxis: [
      numAxis(0, -20, 80, 20, 0, true, 10),
      numAxis(1, -80, 20, 20, 0, true, 10),
      numAxis(2, 0, 80, 20, 0, true, 10),
      numAxis(3, -80, 0, 20, 0, true, 10),
      {
        type: "value", gridIndex: 4, min: 0.76, max: 7.24,
        axisLine: { show: false, onZero: false },
        axisTick: { show: true, customValues: [1, 2, 3, 4, 5, 6, 7], length: 5, lineStyle: { color: "#999" } },
        splitLine: { show: false },
        axisLabel: {
          show: true, customValues: [1, 2, 3, 4, 5, 6, 7], rotate: 90, margin: 9,
          fontFamily: "Liberation Sans", fontSize: 15.5, color: "#222",
          formatter: (v: number) => samples[Math.round(v) - 1] || "",
        },
      },
    ],
    yAxis: [
      numAxis(0, 0, 0.6, 0.1, 2, false, 5),
      numAxis(1, 0, 0.6, 0.1, 2, false, 5),
      numAxis(2, 0, 0.03, 0.005, 3, false, 5),
      numAxis(3, 0, 0.03, 0.005, 3, false, 5),
      {
        type: "value", gridIndex: 4, min: -4, max: 104,
        axisLine: { show: false, onZero: false },
        axisTick: { show: true, customValues: cTicks, length: 5, lineStyle: { color: "#999" } },
        splitLine: { show: false },
        axisLabel: {
          show: true, customValues: cTicks, rotate: 90, margin: 7,
          fontFamily: "Liberation Sans", fontSize: 14, color: "#333",
          formatter: (v: number) => String(Math.round(v)),
        },
      },
    ],
    series,
    graphic: { elements: g },
  };
}

export default function App() {
  const ref = useRef<HTMLDivElement>(null);
  useEffect(() => {
    if (!ref.current) return;
    const chart = echarts.init(ref.current, undefined, { renderer: "svg" });
    chart.setOption(buildOption() as any);
    return () => chart.dispose();
  }, []);
  return (
    <div
      ref={ref}
      style={{ position: "absolute", left: 0, top: 0, width: 1247, height: 1348, background: "#fff" }}
    />
  );
}
